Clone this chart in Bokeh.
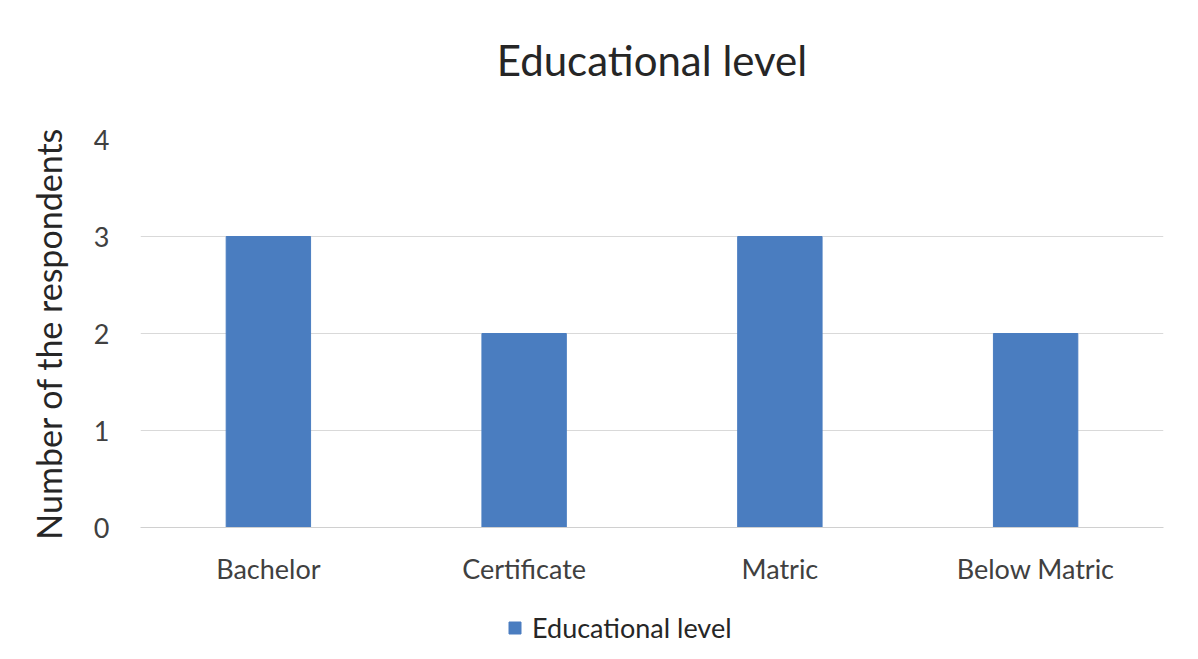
from bokeh.plotting import figure
from bokeh.models import ColumnDataSource, Legend, LegendItem, Range1d, FactorRange, Title
from bokeh.layouts import column
from bokeh.embed import file_html
from bokeh.resources import INLINE

categories = ["Bachelor", "Certificate", "Matric", "Below Matric"]
counts = [3, 2, 3, 2]
series_name = "Educational level"
chart_title = "Educational level"
y_label = "Number of the respondents"
y_ticks = [0, 1, 2, 3, 4]

FONT = "Lato"
BAR = "#4a7dc0"
src = ColumnDataSource(dict(cat=categories, val=counts))

p = figure(x_range=FactorRange(factors=categories, range_padding=0), y_range=Range1d(0, 4),
           title=None, frame_width=1023, frame_height=388, output_backend="svg",
           toolbar_location=None, min_border_left=140, min_border_right=27,
           min_border_top=139, min_border_bottom=73)

p.vbar(x="cat", top="val", width=0.33, source=src, fill_color=BAR, line_color=BAR)

# spacer between frame and title, then the title itself
p.add_layout(Title(text="\u00a0", text_font_size="10px", standoff=42), "above")
p.add_layout(Title(text=chart_title, align="center", text_font=FONT, text_font_size="42px",
                   text_font_style="normal", text_color="#262626", standoff=0), "above")

p.outline_line_color = None
p.background_fill_color = "white"
p.border_fill_color = "white"

p.yaxis.ticker = y_ticks
p.yaxis.axis_line_color = None
p.yaxis.major_tick_line_color = None
p.yaxis.minor_tick_line_color = None
p.yaxis.major_label_text_font = FONT
p.yaxis.major_label_text_font_size = "27px"
p.yaxis.major_label_text_color = "#404040"
p.yaxis.major_label_standoff = 25
p.yaxis.axis_label = y_label
p.yaxis.axis_label_text_font = FONT
p.yaxis.axis_label_text_font_size = "34px"
p.yaxis.axis_label_text_font_style = "normal"
p.yaxis.axis_label_text_color = "#262626"
p.yaxis.axis_label_standoff = 22

p.xaxis.axis_line_color = "#d0d0d0"
p.xaxis.major_tick_line_color = None
p.xaxis.minor_tick_line_color = None
p.xaxis.major_label_text_font = FONT
p.xaxis.major_label_text_font_size = "27px"
p.xaxis.major_label_text_color = "#404040"
p.xaxis.major_label_standoff = 18

p.xgrid.grid_line_color = None
p.ygrid.grid_line_color = "#d9d9d9"
p.ygrid.grid_line_width = 1

# legend strip below the chart (bars of the same data lie outside its visible range)
leg = figure(width=1190, height=56, x_range=FactorRange(factors=categories), y_range=Range1d(10, 11),
             output_backend="svg", toolbar_location=None, min_border=0,
             x_axis_location=None, y_axis_location=None)
leg.outline_line_color = None
leg.grid.visible = False
key = leg.vbar(x="cat", top="val", width=0.33, source=src, fill_color=BAR, line_color=BAR)
legend = Legend(items=[LegendItem(label=series_name, renderers=[key])], orientation="horizontal",
                location=(367, 12), border_line_color=None, background_fill_alpha=0,
                label_text_font=FONT, label_text_font_size="27px", label_text_color="#262626",
                glyph_width=15, glyph_height=15, label_standoff=10, margin=0, padding=0)
leg.add_layout(legend, "center")

open("out.html", "w").write(file_html(column(p, leg, spacing=0), INLINE))
